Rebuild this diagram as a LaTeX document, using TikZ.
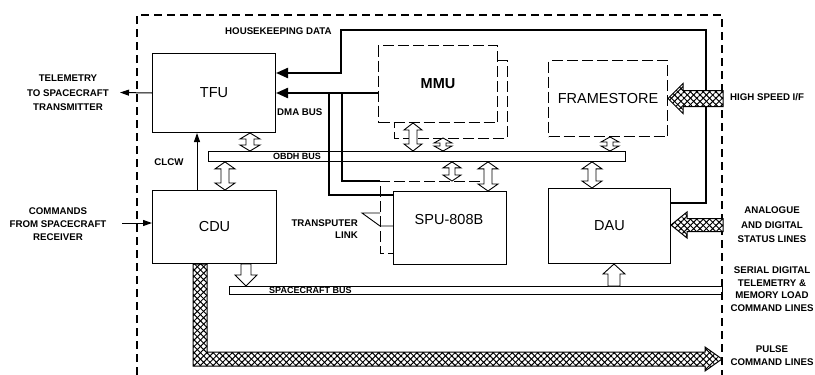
\documentclass[tikz,border=0pt]{standalone}
\usepackage{fontspec}
\setmainfont{Liberation Sans}
\usetikzlibrary{arrows.meta,calc,patterns.meta}
\newcommand\dblarrow[5]{%
  \draw[hollow] let \p1=#1, \p2=#2 in
  (\x1,\y1) -- (\x1+#3,\y1-#5) -- (\x1+#4,\y1-#5) -- (\x1+#4,\y2+#5) -- (\x1+#3,\y2+#5)
  -- (\x1,\y2) -- (\x1-#3,\y2+#5) -- (\x1-#4,\y2+#5) -- (\x1-#4,\y1-#5) -- (\x1-#3,\y1-#5) -- cycle;}
\newcommand\hollowdown[5]{%
  \draw[hollow] let \p1=#1, \p2=#2 in
  (\x1-#4,\y1) -- (\x1+#4,\y1) -- (\x1+#4,\y2+#5) -- (\x1+#3,\y2+#5) -- (\x1,\y2)
  -- (\x1-#3,\y2+#5) -- (\x1-#4,\y2+#5) -- cycle;}
\newcommand\hollowup[5]{%
  \draw[hollow] let \p1=#1, \p2=#2 in
  (\x1-#4,\y1) -- (\x1+#4,\y1) -- (\x1+#4,\y2-#5) -- (\x1+#3,\y2-#5) -- (\x1,\y2)
  -- (\x1-#3,\y2-#5) -- (\x1-#4,\y2-#5) -- cycle;}
\tikzset{
  box/.style={draw, line width=1pt, inner sep=0pt, anchor=north west, font=\fontsize{14.5}{16}\selectfont},
  dashbox/.style={draw, line width=1pt, dash pattern=on 11pt off 4pt},
  bar/.style={draw, line width=0.9pt, inner sep=0pt, anchor=north west},
  frame/.style={line width=1.1pt, dash pattern=on 8pt off 5pt},
  thickbus/.style={line width=2.2pt, -{Triangle[length=12pt,width=10pt]}},
  thickline/.style={line width=2.2pt},
  thinarrow/.style={line width=1pt, -{Triangle[length=9pt,width=6pt]}},
  hollow/.style={draw, line width=0.9pt, fill=white},
  hatch/.style={draw, line width=1pt, fill=white,
    postaction={pattern={Lines[angle=45,distance=4.5pt,line width=1pt]}},
    postaction={pattern={Lines[angle=-45,distance=4.5pt,line width=1pt]}}},
  lbl/.style={inner sep=0pt, font=\fontsize{9.7}{13}\selectfont\bfseries, align=center},
  barlbl/.style={inner sep=0pt, font=\fontsize{9}{9}\selectfont\bfseries},
}
\begin{document}
\begin{tikzpicture}[x=1pt,y=-1pt]
\useasboundingbox (0,0) rectangle (815,375);
\fill[white] (0,0) rectangle (815,375);

% outer frame
\draw[frame] (137,375) -- (137,15) -- (722,15) -- (722,375);

% blocks
\node[box, minimum width=123pt, minimum height=79pt] (tfu) at (152,53) {TFU};
\node[box, minimum width=124pt, minimum height=73pt] (cdu) at (152,190) {CDU};
\node[box, dashbox, minimum width=119pt, minimum height=77pt] (mmu) at (378,45) {\bfseries MMU};
\node[box, dashbox, minimum width=119pt, minimum height=76pt] (fs) at (548,60) {FRAMESTORE};
\node[box, minimum width=113pt, minimum height=73pt] (spu) at (393,191) {};
\node[font=\fontsize{14.5}{16}\selectfont, inner sep=0pt] (spulbl) at (449,220) {SPU-808B};
\node[box, minimum width=122pt, minimum height=75pt] (dau) at (548,188) {DAU};

% buses
\node[bar, minimum width=417pt, minimum height=10pt] (obdh) at (208,151) {};
\node[barlbl] (obdhlbl) at (297,156.5) {OBDH BUS};
\node[bar, minimum width=493pt, minimum height=8pt] (scbus) at (229,286) {};
\node[barlbl, anchor=west] (sclbl) at (269,290) {SPACECRAFT BUS};

% shadows
\draw[dashbox] ($(mmu.north east)+(0,15)$) -- ++(9,0) |- ($(mmu.south west)+(16,15)$) -- ++(0,-15);
\coordinate (spush) at ($(spu.north west)+(-13,-10)$);
\draw[dashbox] ($(spush)+(100,0)$) -- (spush) |- ($(spu.south west)+(0,-12)$);

% housekeeping data & DMA bus
\draw[thickbus] ($(dau.north east)+(0,15)$) -| (706,30) -| ($(tfu.north east)+(65,20)$) -- ($(tfu.north east)+(0,20)$);
\coordinate (dma) at ($(mmu.north west)+(0,48)$);
\draw[thickbus] (dma) -- (dma -| tfu.east);
\draw[thickline] (dma -| 329,0) |- ($(spu.north west)+(0,4)$);
\draw[thickline] (dma -| 342,0) |- (spush);

% transputer link
\draw[line width=0.9pt] ($(spush)+(0,32)$) -- ++(-18,0) -- ++(18,13) -- ($(spush)+(13,45)$);

% thin arrows
\draw[thinarrow] (tfu.west) -- (120,92.5);
\draw[thinarrow] (122,223) -- (cdu.west |- 0,223);
\draw[thinarrow] ($(cdu.north west)+(45,0)$) -- ($(tfu.south west)+(45,0)$);

% hollow arrows
\dblarrow{($(tfu.south west)+(98,0)$)}{(obdh.north)}{10pt}{4pt}{6pt}
\dblarrow{($(obdh.south west)+(17,0)$)}{(cdu.north)}{10pt}{4pt}{7pt}
\dblarrow{($(mmu.south west)+(35,0)$)}{(obdh.north)}{9pt}{4pt}{7pt}
\dblarrow{($(mmu.south west)+(65,15)$)}{(obdh.north)}{9pt}{3pt}{5pt}
\dblarrow{($(obdh.south west)+(244,0)$)}{(spush)}{9pt}{3pt}{6pt}
\dblarrow{($(obdh.south west)+(280,0)$)}{(spu.north)}{10pt}{4pt}{7pt}
\dblarrow{($(fs.south west)+(62,0)$)}{(obdh.north)}{9pt}{3pt}{5pt}
\dblarrow{($(obdh.south west)+(384,0)$)}{(dau.north)}{10pt}{4pt}{7pt}
\hollowdown{($(cdu.south west)+(94,0)$)}{(scbus.north)}{11pt}{5pt}{11pt}
\hollowup{($(scbus.north west)+(385,0)$)}{(dau.south)}{11pt}{6pt}{10pt}

% hatched arrows
\draw[hatch] (fs.east) -- ++(15,-15) -- ++(0,7) -- ++(40,0) -- ++(0,16) -- ++(-40,0) -- ++(0,7) -- cycle;
\draw[hatch] ($(dau.east)+(0,-1)$) -- ++(16,-13) -- ++(0,6.5) -- ++(36,0) -- ++(0,13) -- ++(-36,0) -- ++(0,6.5) -- cycle;
\draw[hatch] ($(cdu.south west)+(41,0)$) -- ++(0,102) -- ++(512,0) -- ++(0,5) -- ++(17,-12) -- ++(-17,-12) -- ++(0,5) -- ++(-498,0) -- ++(0,-88) -- cycle;

% labels
\node[lbl, font=\fontsize{9.7}{14.5}\selectfont\bfseries] (tmlbl) at (68,93) {TELEMETRY\\TO SPACECRAFT\\TRANSMITTER};
\node[lbl] (cmdlbl) at (58,224) {COMMANDS\\FROM SPACECRAFT\\RECEIVER};
\node[lbl, anchor=west] (hklbl) at (225,31) {HOUSEKEEPING DATA};
\node[lbl, anchor=west] (dmalbl) at (277,112) {DMA BUS};
\node[lbl] (clcwlbl) at (169,162) {CLCW};
\node[lbl, align=right, font=\fontsize{9.7}{12}\selectfont\bfseries, anchor=east] (tplbl) at (358,229) {TRANSPUTER\\LINK};
\node[lbl, anchor=west] (hslbl) at (730,97) {HIGH SPEED I/F};
\node[lbl, font=\fontsize{9.7}{14.5}\selectfont\bfseries] (anlbl) at (772,225) {ANALOGUE\\AND DIGITAL\\STATUS LINES};
\node[lbl, font=\fontsize{9.7}{12.5}\selectfont\bfseries] (serlbl) at (772,289) {SERIAL DIGITAL\\TELEMETRY \&\\MEMORY LOAD\\COMMAND LINES};
\node[lbl] (pulbl) at (772,356) {PULSE\\COMMAND LINES};
\end{tikzpicture}
\end{document}
